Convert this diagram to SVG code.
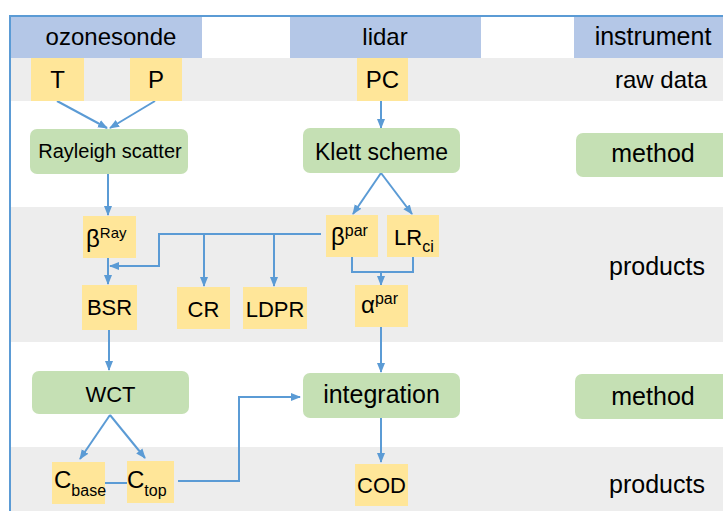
<svg xmlns="http://www.w3.org/2000/svg" width="723" height="511" viewBox="0 0 723 511">
<style>
text{font-family:"Liberation Sans",Arial,sans-serif;fill:#000;}
.hdr{fill:#b4c7e7;}
.band{fill:#ededed;}
.y{fill:#ffe699;}
.g{fill:#c5e0b4;}
.c{fill:none;stroke:#5b9bd5;stroke-width:2;}
.a{marker-end:url(#ah);}
.t24{font-size:24px;}
.t25{font-size:25px;}
.t22{font-size:22px;}
.s{font-size:16px;}
</style>
<defs>
<marker id="ah" markerUnits="userSpaceOnUse" markerWidth="10" markerHeight="10" viewBox="0 0 10 10" refX="9" refY="5" orient="auto">
<path d="M0,1 L10,5 L0,9 Z" fill="#5b9bd5"/>
</marker>
</defs>
<rect x="0" y="0" width="723" height="511" fill="#fff"/>
<g id="bands">
<rect class="band" x="11" y="58" width="712" height="43"/>
<rect class="band" x="11" y="207" width="712" height="135"/>
<rect class="band" x="11" y="447" width="712" height="64"/>
</g>
<g id="frame">
<line x1="9" y1="16" x2="723" y2="16" stroke="#5b9bd5" stroke-width="2"/>
<line x1="10" y1="16" x2="10" y2="511" stroke="#5b9bd5" stroke-width="2"/>
</g>
<g id="hdr-ozonesonde"><rect class="hdr" x="11" y="17" width="191" height="41"/><text class="t24" x="111" y="45" text-anchor="middle">ozonesonde</text></g>
<g id="hdr-lidar"><rect class="hdr" x="290" y="17" width="191" height="41"/><text class="t24" x="385" y="45" text-anchor="middle">lidar</text></g>
<g id="hdr-instrument"><rect class="hdr" x="574" y="17" width="149" height="41"/><text class="t25" x="653" y="45" text-anchor="middle">instrument</text></g>
<g id="lbl-rawdata"><text class="t24" x="661" y="88" text-anchor="middle">raw data</text></g>
<g id="lbl-method1"><rect class="g" x="576" y="133" width="160" height="44" rx="7"/><text class="t25" x="653" y="162" text-anchor="middle">method</text></g>
<g id="lbl-products1"><text class="t25" x="657" y="275" text-anchor="middle">products</text></g>
<g id="lbl-method2"><rect class="g" x="575" y="374" width="160" height="45" rx="7"/><text class="t25" x="653" y="405" text-anchor="middle">method</text></g>
<g id="lbl-products2"><text class="t25" x="657" y="493" text-anchor="middle">products</text></g>

<g id="connectors">
<line class="c a" x1="57" y1="101" x2="107" y2="128"/>
<line class="c a" x1="155" y1="101" x2="110" y2="128"/>
<line class="c a" x1="108" y1="174" x2="108" y2="215"/>
<line class="c a" x1="108" y1="258" x2="108" y2="284"/>
<polyline class="c a" points="321,234 159,234 159,266 110,266"/>
<line class="c a" x1="204" y1="234" x2="204" y2="286"/>
<line class="c a" x1="274" y1="234" x2="274" y2="286"/>
<line class="c a" x1="381" y1="101" x2="381" y2="128"/>
<line class="c a" x1="381" y1="173" x2="353" y2="214"/>
<line class="c a" x1="381" y1="173" x2="412" y2="214"/>
<polyline class="c" points="352,257 352,272 413,272 413,257"/>
<line class="c a" x1="381" y1="272" x2="381" y2="285"/>
<line class="c a" x1="381" y1="327" x2="381" y2="372"/>
<line class="c a" x1="109" y1="330" x2="109" y2="370"/>
<line class="c a" x1="110" y1="415" x2="80" y2="459"/>
<line class="c a" x1="110" y1="415" x2="145" y2="458"/>
<line class="c" x1="105" y1="483" x2="127" y2="483"/>
<polyline class="c a" points="178,481 239,481 239,397 300,397"/>
<line class="c a" x1="381" y1="418" x2="381" y2="462"/>
</g>

<g id="n-T"><rect class="y" x="31" y="58" width="53" height="43"/><text class="t24" x="57.5" y="88" text-anchor="middle">T</text></g>
<g id="n-P"><rect class="y" x="130" y="58" width="52" height="43"/><text class="t24" x="156" y="88" text-anchor="middle">P</text></g>
<g id="n-PC"><rect class="y" x="357" y="58" width="51" height="43"/><text class="t24" x="382.5" y="88" text-anchor="middle">PC</text></g>
<g id="n-rayleigh"><rect class="g" x="30" y="129" width="158" height="45" rx="7"/><text x="110" y="158" text-anchor="middle" font-size="20">Rayleigh scatter</text></g>
<g id="n-klett"><rect class="g" x="303" y="128" width="157" height="45" rx="7"/><text x="381.5" y="160" text-anchor="middle" font-size="23">Klett scheme</text></g>
<g id="n-betaRay"><rect class="y" x="83" y="216" width="53" height="42"/><text class="t24" x="86" y="247">β<tspan font-size="15" dy="-9">Ray</tspan></text></g>
<g id="n-BSR"><rect class="y" x="82" y="285" width="55" height="45"/><text class="t22" x="109.5" y="315" text-anchor="middle">BSR</text></g>
<g id="n-CR"><rect class="y" x="177" y="287" width="53" height="42"/><text class="t22" x="203.5" y="317" text-anchor="middle">CR</text></g>
<g id="n-LDPR"><rect class="y" x="243" y="287" width="64" height="42"/><text class="t22" x="275" y="317" text-anchor="middle">LDPR</text></g>
<g id="n-betapar"><rect class="y" x="326" y="215" width="52" height="42"/><text class="t24" x="331" y="245">β<tspan class="s" dy="-9">par</tspan></text></g>
<g id="n-LRci"><rect class="y" x="387" y="215" width="52" height="42"/><text class="t22" x="394" y="245">LR<tspan class="s" dy="7">ci</tspan></text></g>
<g id="n-alphapar"><rect class="y" x="355" y="285" width="53" height="42"/><text class="t24" x="361" y="313">α<tspan class="s" dy="-9">par</tspan></text></g>
<g id="n-WCT"><rect class="g" x="32" y="371" width="157" height="43" rx="7"/><text class="t22" x="110.5" y="402" text-anchor="middle">WCT</text></g>
<g id="n-integration"><rect class="g" x="303" y="373" width="157" height="45" rx="7"/><text class="t25" x="381.5" y="403" text-anchor="middle">integration</text></g>
<g id="n-Cbase"><rect class="y" x="52" y="462" width="53" height="42"/><text class="t24" x="54" y="488">C<tspan class="s" dy="8">base</tspan></text></g>
<g id="n-Ctop"><rect class="y" x="127" y="461" width="47" height="42"/><text class="t24" x="127" y="488">C<tspan class="s" dy="8">top</tspan></text></g>
<g id="n-COD"><rect class="y" x="355" y="464" width="53" height="42"/><text class="t22" x="381.5" y="493" text-anchor="middle">COD</text></g>
</svg>
